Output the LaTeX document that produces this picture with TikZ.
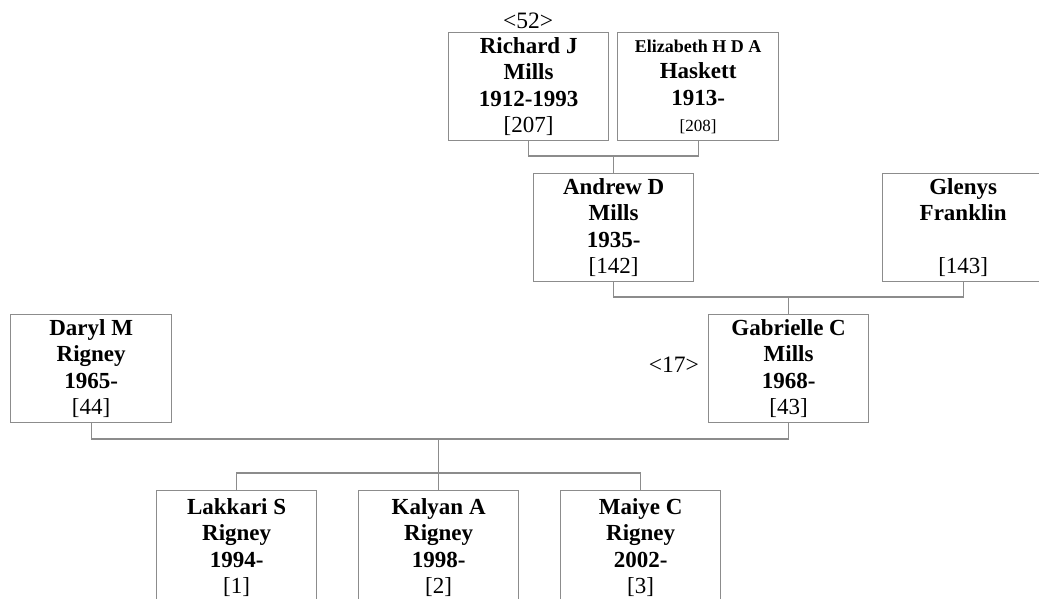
\documentclass[tikz,border=0pt]{standalone}
\usepackage{fontspec}
\setmainfont{Liberation Serif}
\definecolor{linegray}{RGB}{140,140,140}
\begin{document}
\begin{tikzpicture}[x=1pt,y=-1pt,
  person/.style={draw=linegray, line width=1.3pt, minimum width=160pt, minimum height=108pt,
    inner sep=0pt, align=center, anchor=north west, text=black,
    font=\fontsize{23}{26.5}\selectfont\bfseries},
  conn/.style={draw=linegray, line width=1.3pt},
  tag/.style={inner sep=0pt, font=\fontsize{23.5}{26}\selectfont}]
\useasboundingbox (0,0) rectangle (1039,599);
\begin{scope}
\clip (0,0) rectangle (1039,599);
\newcommand{\refnum}[1]{{\mdseries #1}}
\node[person] (richard) at (448,32) {Richard J\\Mills\\1912-1993\\\refnum{[207]}};
\node[person, minimum width=161pt] (elizabeth) at (617,32) {{\fontsize{18}{26.5}\selectfont Elizabeth H D A}\\Haskett\\1913-\\{\mdseries\fontsize{17}{26.5}\selectfont [208]}};
\node[person] (andrew) at (533,173) {Andrew D\\Mills\\1935-\\\refnum{[142]}};
\node[person, minimum width=161pt] (glenys) at (882,173) {Glenys\\Franklin\\\mbox{}\\\refnum{[143]}};
\node[person, minimum width=161pt] (daryl) at (10,314) {Daryl M\\Rigney\\1965-\\\refnum{[44]}};
\node[person] (gabrielle) at (708,314) {Gabrielle C\\Mills\\1968-\\\refnum{[43]}};
\node[person, minimum height=114pt] (lakkari) at (156,490) {Lakkari S\\Rigney\\1994-\\\refnum{[1]}};
\node[person, minimum height=114pt] (kalyan) at (358,490) {Kalyan A\\Rigney\\1998-\\\refnum{[2]}};
\node[person, minimum height=114pt] (maiye) at (560,490) {Maiye C\\Rigney\\2002-\\\refnum{[3]}};
\node[tag, anchor=south] (n52) at (528,29) {\textless52\textgreater};
\node[tag, anchor=east] (n17) at ([xshift=-9pt,yshift=4pt]gabrielle.west) {\textless17\textgreater};
% couple 1
\coordinate (c1) at (andrew.north |- 0,156);
\draw[conn] (richard.south) -- (richard.south |- c1) -- (elizabeth.south |- c1) -- (elizabeth.south);
\draw[conn] (c1) -- (andrew.north);
% couple 2
\coordinate (c2) at (gabrielle.north |- 0,297);
\draw[conn] (andrew.south) -- (andrew.south |- c2) -- (glenys.south |- c2) -- (glenys.south);
\draw[conn] (c2) -- (gabrielle.north);
% couple 3
\coordinate (c3) at (kalyan.north |- 0,439);
\coordinate (k3) at (kalyan.north |- 0,473);
\draw[conn] (daryl.south) -- (daryl.south |- c3) -- (gabrielle.south |- c3) -- (gabrielle.south);
\draw[conn] (c3) -- (k3);
\draw[conn] (lakkari.north) -- (lakkari.north |- k3) -- (maiye.north |- k3) -- (maiye.north);
\draw[conn] (k3) -- (kalyan.north);
\end{scope}
\end{tikzpicture}
\end{document}
